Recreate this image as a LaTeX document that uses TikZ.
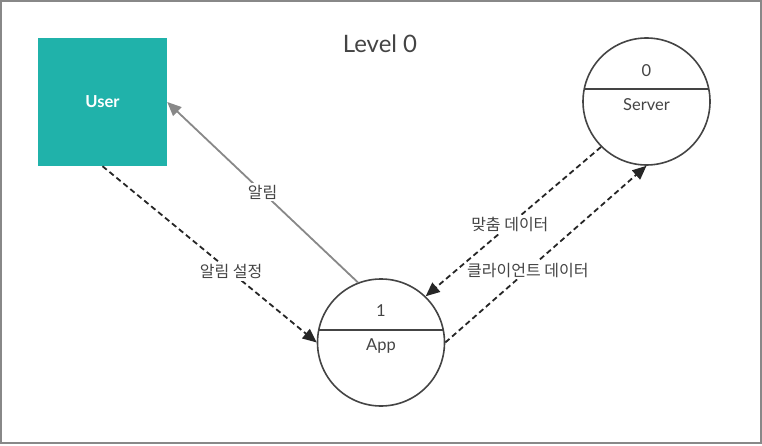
\documentclass[tikz,border=0pt]{standalone}
\usepackage{fontspec}
\setmainfont{Lato}
\newfontfamily\kr{Noto Sans CJK KR}
\usetikzlibrary{arrows.meta,calc}
\definecolor{teal1}{HTML}{20B2AA}
\definecolor{ink}{HTML}{444444}
\definecolor{frame}{HTML}{888888}
\tikzset{
  proc/.style={circle, draw=ink, line width=1.6pt, minimum size=127pt, inner sep=0pt},
  flowd/.style={draw=black!85, line width=1.8pt, dash pattern=on 5.5pt off 3.5pt, -{Triangle[length=14pt,width=12pt]}},
  flows/.style={draw=frame, line width=1.8pt, -{Triangle[length=14pt,width=12pt]}},
  lbl/.style={fill=white, text=ink, font=\kr\fontsize{16}{18}\selectfont, inner sep=2pt},
  ptxt/.style={text=ink, font=\fontsize{16.5}{18}\selectfont, inner sep=0pt},
  chord/.style={draw=ink, line width=1.6pt}
}
\begin{document}
\begin{tikzpicture}[x=1pt,y=-1pt]
\useasboundingbox (0,0) rectangle (762,446);
\draw[frame, line width=2pt] (1,1) rectangle (760.5,443);
\node[text=ink, font=\fontsize{24}{28}\selectfont] (title) at (380,44) {Level 0};
\node[fill=teal1, minimum width=129pt, minimum height=128pt, inner sep=0pt, text=white, font=\bfseries\fontsize{16.5}{18}\selectfont] (user) at (102.5,102) {User};
\node[proc] (srv) at (646.5,101.5) {};
\node[proc] (app) at (381,342.5) {};
\draw[chord] ($(srv.center)+(-62.8,-12.5)$) coordinate (s1) -- ($(srv.center)+(62.8,-12.5)$) coordinate (s2);
\draw[chord] ($(app.center)+(-62.8,-12.5)$) coordinate (a1) -- ($(app.center)+(62.8,-12.5)$) coordinate (a2);
\node[ptxt] (srvid) at (646.5,71) {0};
\node[ptxt] (srvname) at (646.5,105) {Server};
\node[ptxt] (appid) at (381,311) {1};
\node[ptxt] (appname) at (381,346) {App};
\draw[flowd] (user.south) -- node[lbl, pos=0.6] (l1) {알림 설정} (app.west);
\draw[flows] (app.111) -- node[lbl, pos=0.5] (l2) {알림} (user.east);
\draw[flowd] (app.east) -- node[lbl, pos=0.41] (l4) {클라이언트 데이터} (srv.south);
\draw[flowd] (srv.225) -- node[lbl, pos=0.52] (l3) {맞춤 데이터} (app.46);
\end{tikzpicture}
\end{document}
